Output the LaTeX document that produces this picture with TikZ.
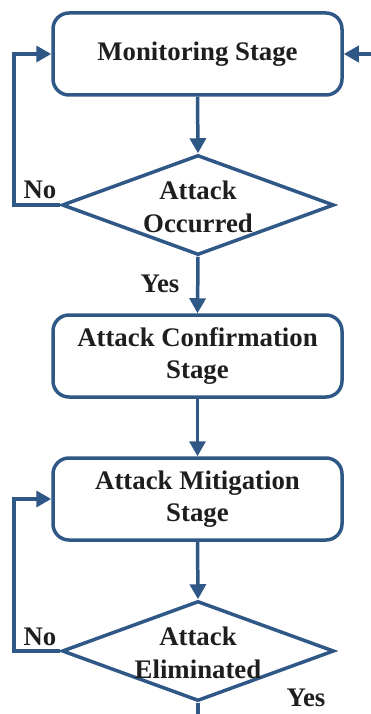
\documentclass[tikz,border=0pt]{standalone}
\usepackage{fontspec}
\setmainfont{Liberation Serif}
\usetikzlibrary{shapes.geometric,arrows.meta}
\definecolor{flowblue}{RGB}{48,88,134}
\definecolor{inkdark}{RGB}{30,30,30}
\begin{document}
\begin{tikzpicture}[x=1pt,y=-1pt,
  every node/.style={text=inkdark,font=\bfseries\fontsize{26.8}{32.5}\selectfont},
  stagebox/.style={draw=flowblue,line width=3.5pt,rounded corners=16pt,fill=white,
    minimum width=289pt,minimum height=82pt,inner sep=0pt,align=center},
  decision/.style={draw=flowblue,line width=3.5pt,diamond,inner sep=0pt,
    minimum width=272pt,minimum height=100pt},
  decisiontext/.style={align=center,inner sep=0pt},
  flow/.style={draw=flowblue,line width=3.5pt,-{Triangle[length=15pt,width=16pt]}},
  plain/.style={draw=flowblue,line width=3.5pt},
  tag/.style={inner sep=0pt}]
  \useasboundingbox (0,0) rectangle (370,714);

  % stages and decisions
  \node[stagebox] (monitor) at (197.5,54) {Monitoring Stage};
  \node[decision] (occurred) at (198,205) {};
  \node[decisiontext] (occurredtext) at (198,207) {Attack\\Occurred};
  \node[stagebox] (confirm) at (197.5,356) {Attack Confirmation\\Stage};
  \node[stagebox] (mitigate) at (197.5,499) {Attack Mitigation\\Stage};
  \node[decision] (eliminated) at (198,651) {};
  \node[decisiontext] (eliminatedtext) at (198,653) {Attack\\Eliminated};

  % free ends and loop corners
  \coordinate (entry) at (372,54);
  \coordinate (exit) at (198,716);
  \coordinate (loopA) at (14,205);
  \coordinate (loopB) at (14,651);

  % main flow
  \draw[flow] (monitor.south) -- (occurred.north);
  \draw[flow] (occurred.south) -- (confirm.north);
  \draw[flow] (confirm.south) -- (mitigate.north);
  \draw[flow] (mitigate.south) -- (eliminated.north);
  \draw[plain] (eliminated.south) -- (exit);
  \draw[flow] (entry) -- (monitor.east);

  % "No" loops back to the stage above
  \draw[flow] (occurred.west) -- (loopA) |- (monitor.west);
  \draw[flow] (eliminated.west) -- (loopB) |- (mitigate.west);

  % branch labels
  \node[tag] (noA) at (40,190) {No};
  \node[tag] (yesA) at (160,284) {Yes};
  \node[tag] (noB) at (40,637) {No};
  \node[tag] (yesB) at (306,698) {Yes};
\end{tikzpicture}
\end{document}
